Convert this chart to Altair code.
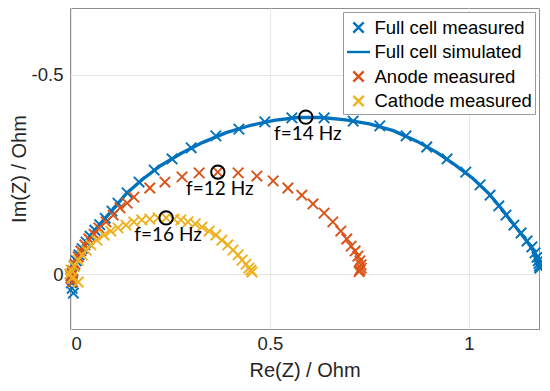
import altair as alt
import pandas as pd

SERIES = ["Full cell measured", "Full cell simulated", "Anode measured", "Cathode measured"]
COLORS = ["#0072BD", "#0072BD", "#D95319", "#EDB120"]

full_meas_re = [0.006, 0.003, 0.001, 0.000, 0.002, 0.004, 0.008, 0.013, 0.020, 0.028, 0.038, 0.048,
                0.060, 0.072, 0.086, 0.103, 0.118, 0.141, 0.171, 0.209, 0.254, 0.302, 0.364, 0.422,
                0.487, 0.555, 0.636, 0.709, 0.776, 0.842, 0.894, 0.945, 0.992, 1.028, 1.053, 1.075,
                1.093, 1.113, 1.131, 1.146, 1.158, 1.166, 1.171, 1.174, 1.176, 1.177, 1.178]
full_meas_im = [0.048, 0.036, 0.022, 0.010, 0.002, -0.008, -0.020, -0.033, -0.048, -0.064, -0.080, -0.095,
                -0.110, -0.124, -0.140, -0.158, -0.178, -0.204, -0.231, -0.261, -0.289, -0.317, -0.347, -0.364,
                -0.382, -0.392, -0.392, -0.384, -0.372, -0.347, -0.319, -0.289, -0.256, -0.224, -0.198, -0.171,
                -0.148, -0.123, -0.103, -0.083, -0.068, -0.053, -0.042, -0.033, -0.026, -0.020, -0.015]

full_sim_re = [0.002, 0.006, 0.015, 0.030, 0.050, 0.075, 0.105, 0.140, 0.180, 0.225, 0.275, 0.330,
               0.390, 0.450, 0.510, 0.570, 0.630, 0.690, 0.750, 0.810, 0.870, 0.920, 0.965, 1.010,
               1.050, 1.085, 1.115, 1.140, 1.160, 1.172, 1.177]
full_sim_im = [0.004, -0.012, -0.036, -0.068, -0.098, -0.128, -0.162, -0.203, -0.238, -0.272, -0.302, -0.330,
               -0.355, -0.373, -0.386, -0.393, -0.393, -0.387, -0.377, -0.360, -0.333, -0.305, -0.274, -0.240,
               -0.202, -0.160, -0.121, -0.090, -0.062, -0.038, -0.022]

anode_re = [0.004, 0.001, 0.000, 0.003, 0.005, 0.010, 0.018, 0.025, 0.035, 0.045, 0.058, 0.070, 0.088,
            0.106, 0.123, 0.141, 0.158, 0.198, 0.236, 0.279, 0.322, 0.369, 0.420, 0.467, 0.508, 0.545,
            0.580, 0.608, 0.636, 0.658, 0.678, 0.693, 0.704, 0.714, 0.721, 0.726, 0.729, 0.729, 0.726, 0.724]
anode_im = [0.020, 0.012, 0.005, -0.002, -0.008, -0.025, -0.043, -0.058, -0.073, -0.088, -0.100, -0.116, -0.131,
            -0.148, -0.166, -0.178, -0.193, -0.216, -0.231, -0.244, -0.254, -0.256, -0.254, -0.246, -0.234, -0.216,
            -0.198, -0.176, -0.153, -0.131, -0.108, -0.088, -0.070, -0.058, -0.045, -0.033, -0.023, -0.015, -0.010, -0.006]

cathode_re = [-0.003, 0.000, 0.003, 0.008, 0.018, 0.018, 0.028, 0.038, 0.050, 0.065, 0.083, 0.100, 0.118,
              0.138, 0.158, 0.178, 0.198, 0.219, 0.239, 0.259, 0.276, 0.294, 0.312, 0.329, 0.347, 0.364,
              0.379, 0.394, 0.407, 0.420, 0.430, 0.440, 0.447, 0.452, 0.455]
cathode_im = [0.000, -0.010, 0.010, -0.020, 0.020, -0.035, -0.048, -0.060, -0.073, -0.085, -0.098, -0.108, -0.116,
              -0.123, -0.131, -0.136, -0.138, -0.141, -0.141, -0.138, -0.136, -0.131, -0.126, -0.118, -0.108, -0.098,
              -0.085, -0.073, -0.060, -0.048, -0.035, -0.025, -0.015, -0.010, -0.005]

mark_re = [0.590, 0.369, 0.239]
mark_im = [-0.394, -0.256, -0.141]
mark_txt = ["f=14 Hz", "f=12 Hz", "f=16 Hz"]

def frame(re, im, name):
    return pd.DataFrame({"re": re, "im": im, "series": name, "idx": range(len(re))})

df_full = frame(full_meas_re, full_meas_im, SERIES[0])
df_sim = frame(full_sim_re, full_sim_im, SERIES[1])
df_an = frame(anode_re, anode_im, SERIES[2])
df_ca = frame(cathode_re, cathode_im, SERIES[3])
df_mark = pd.DataFrame({"re": mark_re, "im": mark_im, "txt": mark_txt})

XPATH = "M-0.45,-0.45L0.45,0.45M0.45,-0.45L-0.45,0.45"

xenc = alt.X("re:Q", scale=alt.Scale(domain=[-0.0025, 1.176], nice=False, zero=False),
             axis=alt.Axis(values=[0, 0.5, 1], labelExpr="'' + datum.value", title="Re(Z) / Ohm",
                           ticks=False, domain=False, labelPadding=5.5, titlePadding=7,
                           labelFontSize=18.5, titleFontSize=20))
yenc = alt.Y("im:Q", scale=alt.Scale(domain=[-0.668, 0.138], reverse=True, nice=False, zero=False),
             axis=alt.Axis(values=[-0.5, 0], labelExpr="'' + datum.value", title="Im(Z) / Ohm",
                           ticks=False, domain=False, labelPadding=7, titlePadding=2,
                           labelFontSize=18.5, titleFontSize=20))

legend = alt.Legend(orient="none", legendX=273, legendY=4, title=None,
                    labelFont="Liberation Sans", labelFontSize=18.5, labelColor="#000000",
                    symbolSize=529, symbolStrokeWidth=2.4, strokeColor="#9a9a9a", fillColor="white",
                    padding=2.5, rowPadding=1.5, labelOffset=3, symbolType="stroke")

color = alt.Color("series:N", scale=alt.Scale(domain=SERIES, range=COLORS), legend=legend)
shape = alt.Shape("series:N", scale=alt.Scale(domain=SERIES, range=[XPATH, "stroke", XPATH, XPATH]), legend=legend)

def pts(df):
    return alt.Chart(df).mark_point(filled=False, size=540, strokeWidth=1.9, opacity=1).encode(
        x=xenc, y=yenc, color=color, shape=shape)

line = alt.Chart(df_sim).mark_line(strokeWidth=3.3).encode(
    x=xenc, y=yenc, order="idx:Q",
    color=alt.Color("series:N", scale=alt.Scale(domain=SERIES, range=COLORS), legend=None))

circles = alt.Chart(df_mark).mark_point(shape="circle", filled=False, size=180, strokeWidth=2,
                                        color="black", opacity=1).encode(x=xenc, y=yenc)
labels = alt.Chart(df_mark).mark_text(font="Lato", fontSize=19, color="black", dy=23, dx=2,
                                      align="center", baseline="alphabetic").encode(x=xenc, y=yenc, text="txt:N")

chart = alt.layer(pts(df_full), line, pts(df_an), pts(df_ca), circles, labels).properties(
    width=469, height=321,
    autosize=alt.AutoSizeParams(type="none"),
    padding={"left": 62, "top": 0, "right": 3, "bottom": 55},
).configure_view(stroke="#8f8f8f", strokeWidth=1).configure_axis(
    gridColor="#e6e6e6", gridWidth=1, labelFont="Liberation Sans", titleFont="Liberation Sans",
    labelColor="#262626", titleColor="#262626", titleFontWeight="normal")

chart.save("out.html", embed_options={"renderer": "svg", "actions": False})
